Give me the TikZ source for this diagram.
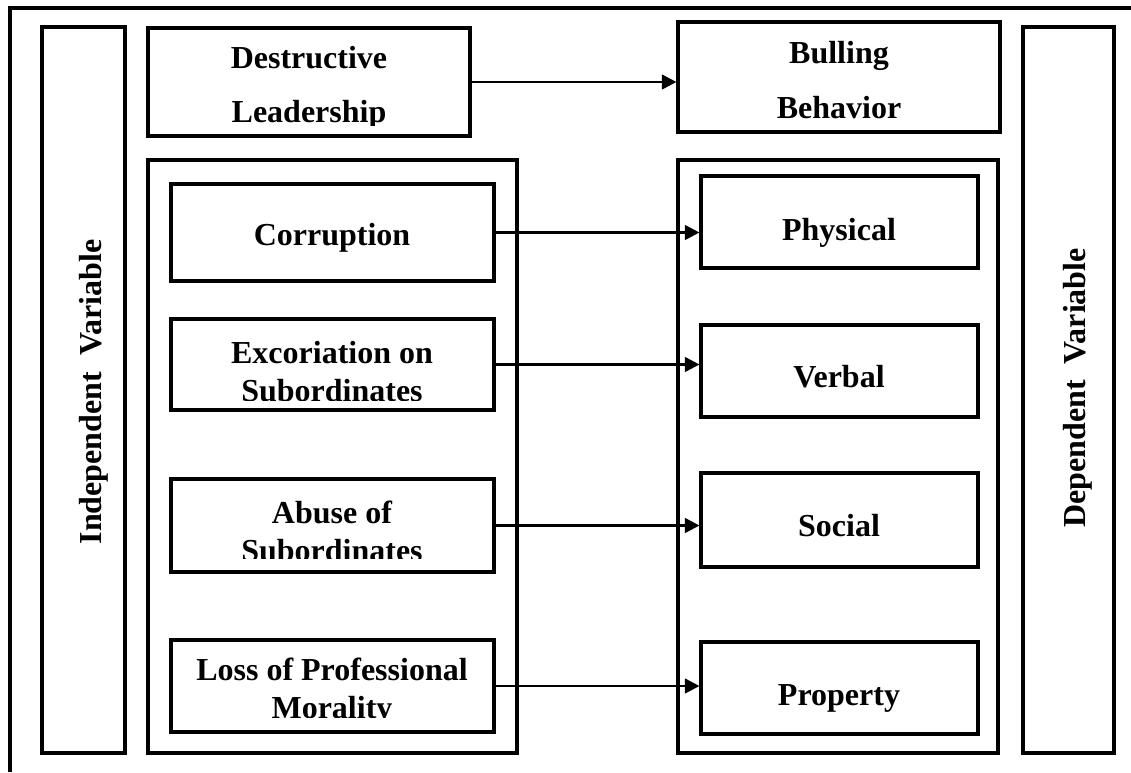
\documentclass[tikz,border=0pt]{standalone}
\usepackage{fontspec}
\setmainfont{Liberation Serif}
\usetikzlibrary{arrows.meta,fit}
\begin{document}
\begin{tikzpicture}[x=0.75pt,y=-0.75pt,
  box/.style={draw=black,line width=2.3pt,inner sep=0pt,fill=none},
  frame/.style={draw=black,line width=2.3pt},
  txt/.style={inner sep=0pt,anchor=base,font=\fontsize{24}{28}\selectfont\bfseries},
  arr/.style={draw=black,line width=2pt,-{Triangle[length=11pt,width=11pt]}}]
\useasboundingbox (0,0) rectangle (1131,772);
% outer frame (only left and top edges are visible)
\draw[frame] (10,772) -- (10,8) -- (1131,8);
% side boxes
\node[box,fit={(42,27) (125,753)}] (iv) {};
\node[box,fit={(1023,27) (1114,753)}] (dv) {};
\node[txt,rotate=90] (ivt) at (101,392) {Independent\ \ Variable};
\node[txt,rotate=90] (dvt) at (1085,388) {Dependent\ \ Variable};
% top boxes
\node[box,fit={(148,28) (470,136)}] (dl) {};
\node[box,fit={(678,22) (1000,132)}] (bb) {};
\begin{scope}
\clip (148,28) rectangle (470,125);
\node[txt] (dl1) at (309,68) {Destructive};
\node[txt] (dl2) at (309,122) {Leadership};
\end{scope}
\node[txt] (bb1) at (839,63) {Bulling};
\node[txt] (bb2) at (839,118) {Behavior};
\draw[arr] (dl.east) -- (dl.east -| bb.west);
% containers
\node[box,fit={(148,160) (517,753)}] (lc) {};
\node[box,fit={(678,160) (998,753)}] (rc) {};
% left inner boxes
\node[box,fit={(171,184) (494,281)}] (corr) {};
\node[box,fit={(171,319) (494,410)}] (exc) {};
\node[box,fit={(171,479) (494,572)}] (abu) {};
\node[box,fit={(171,640) (494,732)}] (loss) {};
\node[txt] (corrt) at (332,245) {Corruption};
\begin{scope}
\clip (171,319) rectangle (494,400);
\node[txt] (exc1) at (332,363) {Excoriation on};
\node[txt] (exc2) at (332,401) {Subordinates};
\end{scope}
\begin{scope}
\clip (171,479) rectangle (494,558);
\node[txt] (abu1) at (332,523) {Abuse of};
\node[txt] (abu2) at (332,561) {Subordinates};
\end{scope}
\begin{scope}
\clip (171,640) rectangle (494,717);
\node[txt] (loss1) at (332,680) {Loss of Professional};
\node[txt] (loss2) at (332,718) {Morality};
\end{scope}
% right inner boxes
\node[box,fit={(701,176) (978,268)}] (phys) {};
\node[box,fit={(701,325) (978,417)}] (verb) {};
\node[box,fit={(701,473) (978,567)}] (soc) {};
\node[box,fit={(701,642) (978,734)}] (prop) {};
\node[txt] (physt) at (839,240) {Physical};
\node[txt] (verbt) at (839,387) {Verbal};
\node[txt] (soct) at (839,536) {Social};
\node[txt] (propt) at (839,705) {Property};
% arrows
\draw[arr] (corr.east) -- (corr.east -| phys.west);
\draw[arr] (exc.east) -- (exc.east -| verb.west);
\draw[arr] (abu.east) -- (abu.east -| soc.west);
\draw[arr] (loss.east) -- (loss.east -| prop.west);
\end{tikzpicture}
\end{document}
